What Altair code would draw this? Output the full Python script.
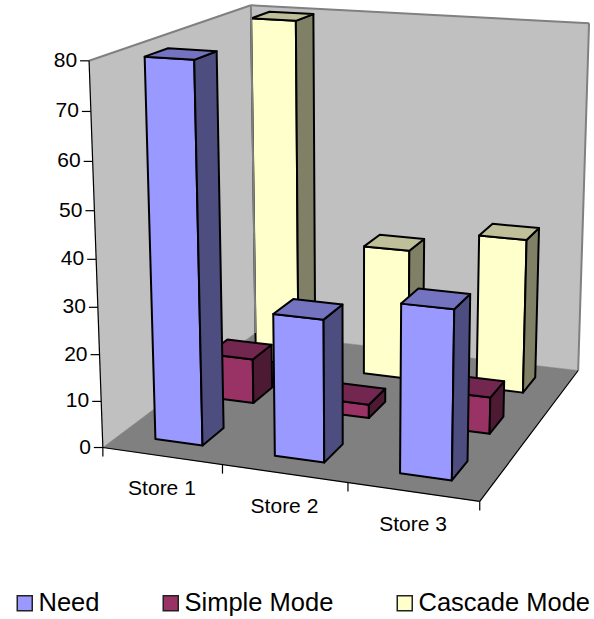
import altair as alt
import numpy as np
import pandas as pd

# Chart values
stores = ["Store 1", "Store 2", "Store 3"]
series = ["Need", "Simple Mode", "Cascade Mode"]
need = [80, 30, 35]
simple = [10, 3, 8]
cascade = [80, 30, 35]
value_ticks = [0, 10, 20, 30, 40, 50, 60, 70, 80]

# Colours per series: front, side and top faces
front = ["#9999FF", "#993366", "#FFFFCC"]
side = ["#4D4D80", "#4D1A33", "#808066"]
top = ["#7373BF", "#732650", "#BFBF99"]

W, H = 594, 619
GAP = 0.3  # share of a slot left empty on either side of a bar

# Camera calibration: box corners (store, value, series depth) -> drawing position
box_world = [(0, 0, 0), (0, 80, 0), (0, 80, 3), (3, 80, 3), (3, 0, 3), (3, 0, 0), (0, 0, 3)]
box_image = [(102.7, 447.7), (89, 61), (251, 5.3), (589, 23), (578, 371), (480, 501), (255.5, 332.6)]


def fit_camera(world, image):
    rows, rhs = [], []
    for (a, b, c), (u, v) in zip(world, image):
        rows.append([a, b, c, 1, 0, 0, 0, 0, -u * a, -u * b, -u * c])
        rows.append([0, 0, 0, 0, a, b, c, 1, -v * a, -v * b, -v * c])
        rhs += [u, v]
    sol = np.linalg.lstsq(np.array(rows, float), np.array(rhs, float), rcond=None)[0]
    return np.append(sol, 1.0).reshape(3, 4)


CAM = fit_camera(box_world, box_image)


def project(a, b, c):
    p = CAM @ np.array([a, b, c, 1.0])
    return [float(p[0] / p[2]), float(p[1] / p[2])]


def face(points, fill, stroke="#000000", width=2.0):
    ring = [project(*p) for p in points]
    ring.append(ring[0])
    return {
        "type": "Feature",
        "geometry": {"type": "Polygon", "coordinates": [ring]},
        "properties": {"fill": fill, "stroke": stroke, "sw": width},
    }


# Walls and floor
scene = [
    face([(0, 0, 0), (0, 80, 0), (0, 80, 3), (0, 0, 3)], "#C0C0C0", "#C0C0C0", 0.5),
    face([(0, 0, 3), (0, 80, 3), (3, 80, 3), (3, 0, 3)], "#C0C0C0", "#C0C0C0", 0.5),
    face([(0, 0, 0), (3, 0, 0), (3, 0, 3), (0, 0, 3)], "#808080", "#808080", 0.5),
]

# Bars, painted from the back row to the front row
table = [need, simple, cascade]
for s in [2, 1, 0]:
    for i, v in enumerate(table[s]):
        x0, x1 = i + GAP, i + 1 - GAP
        z0, z1 = s + GAP, s + 1 - GAP
        scene.append(face([(x0, 0, z0), (x1, 0, z0), (x1, v, z0), (x0, v, z0)], front[s]))
        scene.append(face([(x1, 0, z0), (x1, 0, z1), (x1, v, z1), (x1, v, z0)], side[s]))
        scene.append(face([(x0, v, z0), (x1, v, z0), (x1, v, z1), (x0, v, z1)], top[s]))


def segment(p, q, dx=0, dy=0):
    a, b = project(*p), project(*q)
    return {"x": a[0], "y": a[1], "x2": b[0] + dx, "y2": b[1] + dy}


wall_edges = pd.DataFrame([
    segment((0, 80, 0), (0, 80, 3)),
    segment((0, 80, 3), (3, 80, 3)),
    segment((3, 80, 3), (3, 0, 3)),
    segment((0, 80, 3), (0, 0, 3)),
])

axis_edges = pd.DataFrame(
    [
        segment((0, 0, 0), (0, 80, 0)),
        segment((0, 0, 0), (3, 0, 0)),
        segment((3, 0, 0), (3, 0, 3)),
    ]
    + [segment((0, v, 0), (0, v, 0), dx=-9) for v in value_ticks]
    + [segment((i, 0, 0), (i, 0, 0), dy=9) for i in range(4)]
)

value_labels = pd.DataFrame(
    [{"label": str(v), "x": project(0, v, 0)[0] - 12, "y": project(0, v, 0)[1]} for v in value_ticks]
)
store_labels = pd.DataFrame(
    [
        {"label": s, "x": project(i + 0.5, 0, 0)[0], "y": project(i + 0.5, 0, 0)[1] + 33.5}
        for i, s in enumerate(stores)
    ]
)

xs = alt.Scale(domain=[0, W], nice=False, zero=False)
ys = alt.Scale(domain=[H, 0], nice=False, zero=False)
X = alt.X("x:Q", scale=xs, axis=None)
Y = alt.Y("y:Q", scale=ys, axis=None)

surfaces = (
    alt.Chart(alt.Data(values=scene))
    .mark_geoshape(strokeJoin="round")
    .encode(
        color=alt.Color("properties.fill:N", scale=None),
        stroke=alt.Stroke("properties.stroke:N", scale=None),
        strokeWidth=alt.StrokeWidth("properties.sw:Q", scale=None),
    )
    .project(type="identity", scale=1, translate=[0, 0])
)


def lines(frame, color, width):
    return (
        alt.Chart(frame)
        .mark_rule(color=color, strokeWidth=width)
        .encode(x=X, y=Y, x2="x2:Q", y2="y2:Q")
    )


value_text = (
    alt.Chart(value_labels)
    .mark_text(align="right", baseline="middle", font="Liberation Sans", fontSize=21, color="#000000")
    .encode(x=X, y=Y, text="label:N")
)
store_text = (
    alt.Chart(store_labels)
    .mark_text(align="center", baseline="middle", font="Liberation Sans", fontSize=21, color="#000000")
    .encode(x=X, y=Y, text="label:N")
)

legend_key = (
    alt.Chart(pd.DataFrame({"series": series}))
    .mark_square(size=0, opacity=1)
    .encode(
        x=alt.value(-50),
        y=alt.value(-50),
        fill=alt.Fill(
            "series:N",
            scale=alt.Scale(domain=series, range=front),
            legend=alt.Legend(
                title=None,
                orient="none",
                legendX=12,
                legendY=590,
                columns=3,
                columnPadding=58,
                symbolType="square",
                symbolSize=225,
                symbolStrokeColor="#222222",
                symbolStrokeWidth=1.5,
                labelFont="Liberation Sans",
                labelFontSize=25.5,
                labelLimit=300,
                labelColor="#000000",
                labelOffset=1,
                padding=0,
            ),
        ),
    )
)

chart = (
    alt.layer(
        surfaces,
        lines(wall_edges, "#808080", 2),
        lines(axis_edges, "#000000", 1.2),
        value_text,
        store_text,
        legend_key,
    )
    .properties(width=W, height=H, padding=0, autosize=alt.AutoSizeParams(type="none"), background="#FFFFFF")
    .configure_view(stroke=None)
)

chart.save("out.html", embed_options={"renderer": "svg", "actions": False})
